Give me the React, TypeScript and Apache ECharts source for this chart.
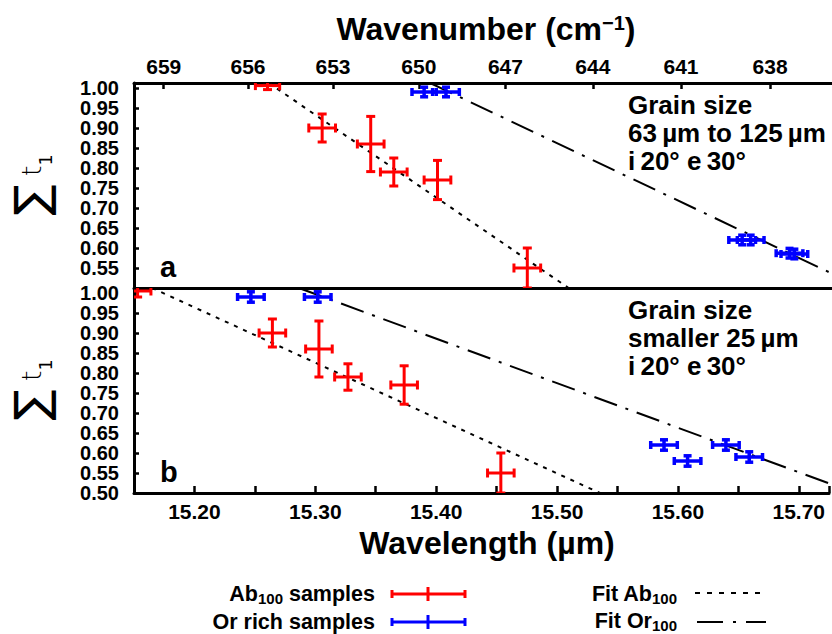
import React, { useEffect, useRef } from "react";
import * as echarts from "echarts";

// ---------- data ----------
// Panel a (grain size 63-125 µm)
const abTopW = [15.260, 15.305, 15.345, 15.364, 15.400, 15.474];
const abTopV = [1.006, 0.90, 0.86, 0.79, 0.77, 0.55];
const abTopXErr = [0.010, 0.011, 0.011, 0.011, 0.011, 0.011];
const abTopYErr = [0.010, 0.035, 0.069, 0.035, 0.049, 0.050];

const orTopW = [15.389, 15.407, 15.651, 15.658, 15.690, 15.694];
const orTopV = [0.99, 0.99, 0.62, 0.62, 0.587, 0.585];
const orTopXErr = [0.010, 0.011, 0.011, 0.011, 0.011, 0.011];
const orTopYErr = [0.012, 0.012, 0.012, 0.012, 0.012, 0.012];

// Panel b (grain size < 25 µm)
const abBotW = [15.153, 15.2645, 15.303, 15.327, 15.3735, 15.4535];
const abBotV = [1.005, 0.90, 0.86, 0.79, 0.77, 0.55];
const abBotXErr = [0.011, 0.011, 0.011, 0.011, 0.011, 0.011];
const abBotYErr = [0.015, 0.035, 0.070, 0.033, 0.048, 0.050];

const orBotW = [15.2467, 15.302, 15.5885, 15.608, 15.6397, 15.659];
const orBotV = [0.99, 0.99, 0.62, 0.58, 0.62, 0.59];
const orBotXErr = [0.011, 0.011, 0.011, 0.011, 0.011, 0.011];
const orBotYErr = [0.013, 0.013, 0.013, 0.013, 0.013, 0.013];

// Fit lines (end points, wavelength µm / sum t1)
const abFitTop = [[15.261, 1.0125], [15.508, 0.5]];
const orFitTop = [[15.394, 1.0125], [15.725, 0.536]];
const abFitBot = [[15.165, 1.0125], [15.5355, 0.5]];
const orFitBot = [[15.2864, 1.0125], [15.725, 0.524]];

// Top axis tick labels (wavenumber, cm^-1)
const wavenumberTicks = [659, 656, 653, 650, 647, 644, 641, 638];

const X_MIN = 15.15;
const X_MAX = 15.725;
const Y_MIN = 0.5;
const Y_MAX = 1.0125;

const RED = "#ff0000";
const BLUE = "#0000ff";
const FONT = "Liberation Sans";

function errBarRenderer(color: string, width: number, cap: number) {
  return (params: any, api: any) => {
    const x = api.value(0);
    const y = api.value(1);
    const xe = api.value(2);
    const ye = api.value(3);
    const c = api.coord([x, y]);
    const l = api.coord([x - xe, y]);
    const r = api.coord([x + xe, y]);
    const t = api.coord([x, y + ye]);
    const b = api.coord([x, y - ye]);
    const style = { stroke: color, lineWidth: width };
    const mk = (x1: number, y1: number, x2: number, y2: number) => ({
      type: "line",
      shape: { x1, y1, x2, y2 },
      style,
    });
    return {
      type: "group",
      children: [
        mk(l[0], c[1], r[0], c[1]),
        mk(c[0], t[1], c[0], b[1]),
        mk(l[0], c[1] - cap, l[0], c[1] + cap),
        mk(r[0], c[1] - cap, r[0], c[1] + cap),
        mk(c[0] - cap, t[1], c[0] + cap, t[1]),
        mk(c[0] - cap, b[1], c[0] + cap, b[1]),
      ],
    };
  };
}

function zip4(a: number[], b: number[], c: number[], d: number[]) {
  return a.map((v, i) => [v, b[i], c[i], d[i]]);
}

function fmtY(hideMin: boolean) {
  return (v: number) => {
    const r = Math.round(v * 20);
    if (Math.abs(v * 20 - r) > 1e-6) return "";
    if (v > 1.0001) return "";
    if (hideMin && v < 0.51) return "";
    return v.toFixed(2);
  };
}

const axisLineStyle = { color: "#000", width: 3 };
const tickStyle = { color: "#000", width: 2.5 };
const labelBase = { fontSize: 20, fontWeight: "bold" as const, color: "#000", fontFamily: FONT };

export default function App() {
  const ref = useRef<HTMLDivElement>(null);
  useEffect(() => {
    if (!ref.current) return;
    const chart = echarts.init(ref.current, undefined, { renderer: "svg" });

    const wnPos = wavenumberTicks.map((w) => 10000 / w);

    const yAxisBase = (grid: number, hideMin: boolean) => ({
      gridIndex: grid,
      type: "value",
      min: Y_MIN,
      max: Y_MAX,
      interval: 0.05,
      axisLine: { show: true, lineStyle: axisLineStyle },
      axisTick: { show: true, inside: true, length: 5, lineStyle: tickStyle },
      axisLabel: {
        ...labelBase,
        lineHeight: 12,
        margin: 15,
        showMinLabel: !hideMin,
        showMaxLabel: false,
        hideOverlap: false,
        formatter: fmtY(hideMin),
      },
      splitLine: { show: false },
    });

    const errSeries = (name: string, data: number[][], grid: number, color: string, width: number, cap: number) => ({
      name,
      type: "custom",
      xAxisIndex: grid === 0 ? 0 : 2,
      yAxisIndex: grid,
      clip: true,
      renderItem: errBarRenderer(color, width, cap),
      encode: { x: 0, y: 1 },
      data,
      z: 5,
    });

    const fitSeries = (name: string, data: number[][], grid: number, dash: number[]) => ({
      name,
      type: "line",
      xAxisIndex: grid === 0 ? 0 : 2,
      yAxisIndex: grid,
      data,
      showSymbol: false,
      symbol: "none",
      clip: true,
      lineStyle: { color: "#000", width: 2, type: dash },
      z: 3,
    });

    const legB = { fontSize: 21.5, lineHeight: 24, fontWeight: "bold", fontFamily: FONT, fill: "#000" };
    const richSub = { fontSize: 15, lineHeight: 15, fontWeight: "bold", fontFamily: FONT, verticalAlign: "bottom", fill: "#000" };

    const option: any = {
      animation: false,
      backgroundColor: "#ffffff",
      textStyle: { fontFamily: FONT },
      grid: [
        { left: 134, top: 83, width: 700, height: 205 },
        { left: 134, top: 288, width: 700, height: 205 },
      ],
      xAxis: [
        {
          gridIndex: 0,
          type: "value",
          position: "top",
          min: X_MIN,
          max: X_MAX,
          axisLine: { show: true, lineStyle: axisLineStyle },
          axisTick: { show: true, inside: true, length: 6, lineStyle: tickStyle, customValues: wnPos },
          axisLabel: {
            ...labelBase,
            fontSize: 21,
            margin: 6,
            customValues: wnPos,
            formatter: (v: number) => String(Math.round(10000 / v)),
          },
          splitLine: { show: false },
        },
        {
          gridIndex: 0,
          type: "value",
          position: "bottom",
          min: X_MIN,
          max: X_MAX,
          axisLine: { show: true, lineStyle: axisLineStyle },
          axisTick: { show: false },
          axisLabel: { show: false },
          splitLine: { show: false },
        },
        {
          gridIndex: 1,
          type: "value",
          position: "bottom",
          min: X_MIN,
          max: X_MAX,
          interval: 0.05,
          axisLine: { show: true, lineStyle: axisLineStyle },
          axisTick: { show: true, inside: true, length: 7, lineStyle: tickStyle },
          axisLabel: {
            ...labelBase,
            fontSize: 21,
            margin: 8,
            formatter: (v: number) => {
              if (v > X_MAX - 0.01 || v < X_MIN + 0.01) return "";
              const r = Math.round(v * 10);
              return Math.abs(v * 10 - r) < 1e-6 ? v.toFixed(2) : "";
            },
          },
          splitLine: { show: false },
        },
      ],
      yAxis: [yAxisBase(0, true), yAxisBase(1, false)],
      series: [
        fitSeries("Fit Ab100 a", abFitTop, 0, [4, 6]),
        fitSeries("Fit Or100 a", orFitTop, 0, [24, 9, 3, 9]),
        fitSeries("Fit Ab100 b", abFitBot, 1, [4, 6]),
        fitSeries("Fit Or100 b", orFitBot, 1, [24, 9, 3, 9]),
        errSeries("Ab100 a", zip4(abTopW, abTopV, abTopXErr, abTopYErr), 0, RED, 3, 4.5),
        errSeries("Or a", zip4(orTopW, orTopV, orTopXErr, orTopYErr), 0, BLUE, 3.5, 4),
        errSeries("Ab100 b", zip4(abBotW, abBotV, abBotXErr, abBotYErr), 1, RED, 3, 4.5),
        errSeries("Or b", zip4(orBotW, orBotV, orBotXErr, orBotYErr), 1, BLUE, 3.5, 4),
      ],
      graphic: [
        // top title
        {
          type: "text",
          x: 486,
          y: 29,
          style: {
            text: "{b|Wavenumber (cm}{sup|−1}{b|)}",
            align: "center",
            verticalAlign: "middle",
            rich: {
              b: { fontSize: 32, fontWeight: "bold", fontFamily: FONT, fill: "#000" },
              sup: { fontSize: 20, fontWeight: "bold", fontFamily: FONT, verticalAlign: "top", fill: "#000" },
            },
          },
        },
        // bottom title
        {
          type: "text",
          x: 487,
          y: 543,
          style: {
            text: "Wavelength (µm)",
            align: "center",
            verticalAlign: "middle",
            fontSize: 32,
            fontWeight: "bold",
            fontFamily: FONT,
            fill: "#000",
          },
        },
        // y axis titles
        ...[185, 390].map((cy) => ({
          type: "text",
          x: 31,
          y: cy,
          rotation: Math.PI / 2,
          style: {
            text: "{s|∑}{t| t}{sub|1}",
            align: "center",
            verticalAlign: "middle",
            rich: {
              s: { fontSize: 46, fontFamily: "DejaVu Sans", fill: "#000" },
              t: { fontSize: 27, fontFamily: "DejaVu Sans", fontWeight: "lighter", fill: "#000" },
              sub: { fontSize: 17, fontFamily: "DejaVu Sans", fill: "#000", verticalAlign: "bottom" },
            },
          },
        })),
        // panel labels
        {
          type: "text",
          x: 160,
          y: 267,
          style: { text: "a", fontSize: 29, fontWeight: "bold", fontFamily: FONT, fill: "#000", verticalAlign: "middle" },
        },
        {
          type: "text",
          x: 160,
          y: 472,
          style: { text: "b", fontSize: 29, fontWeight: "bold", fontFamily: FONT, fill: "#000", verticalAlign: "middle" },
        },
        // annotations
        {
          type: "text",
          x: 628,
          y: 91,
          style: {
            text: "Grain size\n63\u2009µm to 125\u2009µm\ni\u200920° e\u200930°",
            fontSize: 26,
            lineHeight: 28,
            fontWeight: "bold",
            fontFamily: FONT,
            fill: "#000",
            verticalAlign: "top",
          },
        },
        {
          type: "text",
          x: 628,
          y: 296,
          style: {
            text: "Grain size\nsmaller 25\u2009µm\ni\u200920° e\u200930°",
            fontSize: 26,
            lineHeight: 28,
            fontWeight: "bold",
            fontFamily: FONT,
            fill: "#000",
            verticalAlign: "top",
          },
        },
        // legend texts
        {
          type: "text",
          x: 375,
          y: 594,
          style: {
            text: "{b|Ab}{sub|100}{b| samples}",
            align: "right",
            verticalAlign: "middle",
            rich: { b: legB, sub: richSub },
          },
        },
        {
          type: "text",
          x: 375,
          y: 622,
          style: {
            text: "Or rich samples",
            align: "right",
            verticalAlign: "middle",
            fontSize: 21.5,
            fontWeight: "bold",
            fontFamily: FONT,
            fill: "#000",
          },
        },
        {
          type: "text",
          x: 677,
          y: 594,
          style: {
            text: "{b|Fit Ab}{sub|100}",
            align: "right",
            verticalAlign: "middle",
            rich: { b: legB, sub: richSub },
          },
        },
        {
          type: "text",
          x: 677,
          y: 621,
          style: {
            text: "{b|Fit Or}{sub|100}",
            align: "right",
            verticalAlign: "middle",
            rich: { b: legB, sub: richSub },
          },
        },
        // legend symbols
        ...[
          { y: 594, c: RED },
          { y: 622, c: BLUE },
        ].flatMap((s) => [
          { type: "line", shape: { x1: 392, y1: s.y, x2: 465, y2: s.y }, style: { stroke: s.c, lineWidth: 3 } },
          { type: "line", shape: { x1: 392, y1: s.y - 4, x2: 392, y2: s.y + 4 }, style: { stroke: s.c, lineWidth: 3 } },
          { type: "line", shape: { x1: 465, y1: s.y - 4, x2: 465, y2: s.y + 4 }, style: { stroke: s.c, lineWidth: 3 } },
          { type: "line", shape: { x1: 428, y1: s.y - 7, x2: 428, y2: s.y + 7 }, style: { stroke: s.c, lineWidth: 3 } },
        ]),
        {
          type: "line",
          shape: { x1: 695, y1: 593, x2: 760, y2: 593 },
          style: { stroke: "#000", lineWidth: 2, lineDash: [5, 7] },
        },
        {
          type: "line",
          shape: { x1: 697, y1: 622, x2: 766, y2: 622 },
          style: { stroke: "#000", lineWidth: 2, lineDash: [26, 10, 3, 10] },
        },
      ],
    };

    chart.setOption(option);
    return () => chart.dispose();
  }, []);

  return (
    <div
      ref={ref}
      style={{ position: "fixed", left: 0, top: 0, width: 832, height: 634, background: "#fff" }}
    />
  );
}
